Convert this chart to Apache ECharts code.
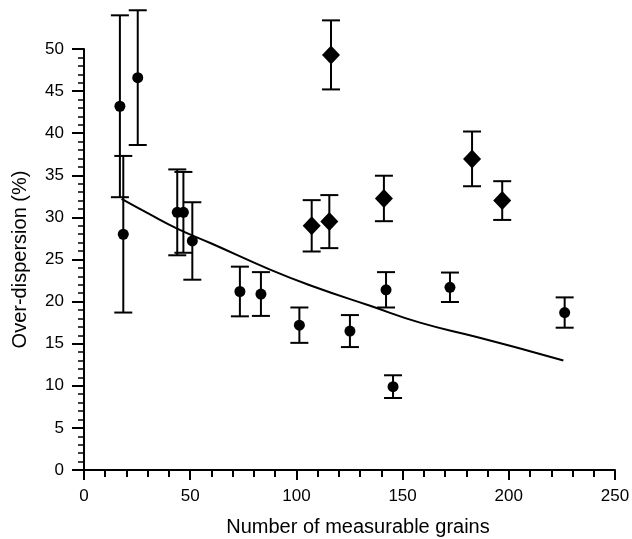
<!DOCTYPE html>
<html>
<head>
<meta charset="utf-8">
<script src="https://cdn.jsdelivr.net/npm/echarts@6/dist/echarts.min.js"></script>
<style>html,body{margin:0;padding:0;background:#fff}#c{width:632px;height:539px}</style>
</head>
<body>
<div id="c"></div>
<script>
// Circles (with symmetric error)
const circleX   = [16.9, 18.5, 25.3, 43.9, 46.8, 51.0, 73.4, 83.3, 101.4, 125.2, 142.2, 145.5, 172.3, 226.3];
const circleY   = [43.2, 28.0, 46.6, 30.6, 30.6, 27.2, 21.2, 20.9, 17.2, 16.5, 21.4, 9.9, 21.7, 18.7];
const circleErr = [10.8, 9.3, 8.0, 5.1, 4.8, 4.6, 2.95, 2.6, 2.1, 1.9, 2.1, 1.35, 1.75, 1.8];
// Diamonds
const diamondX   = [116.3, 107.2, 115.5, 141.2, 182.7, 196.9];
const diamondY   = [49.3, 29.0, 29.5, 32.25, 36.95, 32.0];
const diamondErr = [4.1, 3.05, 3.15, 2.7, 3.25, 2.3];
// Fitted curve
const fitX = [17.7, 30, 43.6, 60, 87.6, 108, 134.7, 158.2, 184.9, 210, 225.7];
const fitY = [32.2, 30.5, 28.7, 26.9, 23.8, 21.8, 19.5, 17.5, 15.8, 14.1, 13.0];
// Axis ticks
const xTicks = [0, 50, 100, 150, 200, 250];
const yTicks = [0, 5, 10, 15, 20, 25, 30, 35, 40, 45, 50];

const FONT = 'Liberation Sans, Arial, sans-serif';

function errData(xs, ys, es) {
  return xs.map((x, i) => [x, ys[i] - es[i], ys[i] + es[i]]);
}
function errRender(params, api) {
  const x = api.value(0);
  const lo = api.coord([x, api.value(1)]);
  const hi = api.coord([x, api.value(2)]);
  const hw = 9;
  const st = { stroke: '#000', lineWidth: 2 };
  return {
    type: 'group',
    children: [
      { type: 'line', shape: { x1: lo[0], y1: lo[1], x2: hi[0], y2: hi[1] }, style: st },
      { type: 'line', shape: { x1: lo[0] - hw, y1: lo[1], x2: lo[0] + hw, y2: lo[1] }, style: st },
      { type: 'line', shape: { x1: hi[0] - hw, y1: hi[1], x2: hi[0] + hw, y2: hi[1] }, style: st }
    ]
  };
}

const chart = echarts.init(document.getElementById('c'), null, { renderer: 'canvas' });
chart.setOption({
  animation: false,
  backgroundColor: '#fff',
  grid: { left: 84, right: 17, top: 49, bottom: 69, containLabel: false, outerBoundsMode: 'none' },
  xAxis: {
    type: 'value', min: xTicks[0], max: xTicks[xTicks.length - 1], interval: 50,
    name: 'Number of measurable grains', nameLocation: 'middle', nameGap: 47,
    nameTextStyle: { color: '#000', fontSize: 20, fontFamily: FONT, padding: [0, 0, 0, 17] },
    axisLine: { lineStyle: { color: '#000', width: 2 } },
    axisTick: { show: true, inside: false, length: 10, lineStyle: { color: '#000', width: 2 } },
    minorTick: { show: true, splitNumber: 5, length: 7, lineStyle: { color: '#000', width: 2 } },
    axisLabel: { color: '#000', fontSize: 17, fontFamily: FONT, margin: 18 },
    splitLine: { show: false }
  },
  yAxis: {
    type: 'value', min: yTicks[0], max: yTicks[yTicks.length - 1], interval: 5,
    name: 'Over-dispersion (%)', nameLocation: 'middle', nameGap: 54, nameRotate: 90,
    nameTextStyle: { color: '#000', fontSize: 20, fontFamily: FONT },
    axisLine: { show: true, lineStyle: { color: '#000', width: 2 } },
    axisTick: { show: true, inside: false, length: 12, lineStyle: { color: '#000', width: 2 } },
    minorTick: { show: true, splitNumber: 5, length: 6, lineStyle: { color: '#000', width: 1.5 } },
    axisLabel: { color: '#000', fontSize: 17, fontFamily: FONT, margin: 20 },
    splitLine: { show: false }
  },
  series: [
    {
      type: 'line', data: fitX.map((x, i) => [x, fitY[i]]), smooth: true, showSymbol: false,
      lineStyle: { color: '#000', width: 2 }, z: 2
    },
    {
      type: 'custom', data: errData(circleX, circleY, circleErr), renderItem: errRender,
      clip: false, z: 3, encode: { x: 0, y: [1, 2] }
    },
    {
      type: 'custom', data: errData(diamondX, diamondY, diamondErr), renderItem: errRender,
      clip: false, z: 3, encode: { x: 0, y: [1, 2] }
    },
    {
      type: 'scatter', data: circleX.map((x, i) => [x, circleY[i]]), symbol: 'circle', symbolSize: 11,
      itemStyle: { color: '#000', opacity: 1 }, z: 4
    },
    {
      type: 'scatter', data: diamondX.map((x, i) => [x, diamondY[i]]), symbol: 'diamond', symbolSize: [18, 19],
      itemStyle: { color: '#000', opacity: 1 }, z: 4
    }
  ]
});
</script>
</body>
</html>
